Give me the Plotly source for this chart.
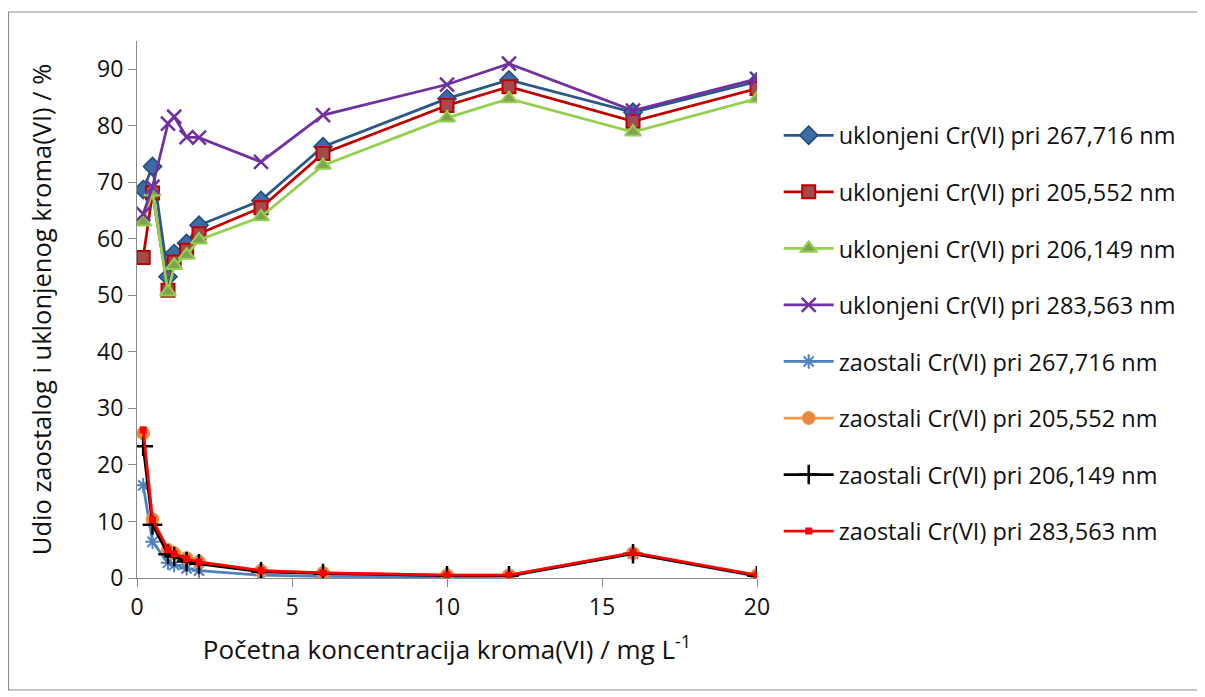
import plotly.graph_objects as go

# pocetna koncentracija kroma(VI), mg/L
conc = [0.2, 0.5, 1, 1.2, 1.6, 2, 4, 6, 10, 12, 16, 20]

# uklonjeni Cr(VI), %
ukl_267 = [68.7, 72.8, 53.3, 57.4, 59.2, 62.4, 66.8, 76.3, 84.8, 88.1, 82.4, 87.8]
ukl_205 = [56.7, 68.1, 50.9, 55.9, 58.0, 60.9, 65.5, 75.1, 83.6, 86.9, 80.8, 86.6]
ukl_206 = [63.0, 68.3, 50.6, 55.3, 57.1, 59.8, 63.9, 73.0, 81.4, 84.8, 78.9, 84.8]
ukl_283 = [64.4, 69.2, 80.4, 81.6, 78.0, 77.9, 73.6, 81.9, 87.3, 91.0, 82.7, 88.3]

# zaostali Cr(VI), %
zao_267 = [16.4, 6.4, 2.7, 2.3, 1.7, 1.3, 0.5, 0.3, 0.2, 0.3, 4.3, 0.3]
zao_205 = [25.6, 10.4, 5.0, 4.4, 3.5, 2.9, 1.3, 0.9, 0.5, 0.5, 4.4, 0.5]
zao_206 = [23.3, 9.4, 4.2, 3.8, 2.9, 2.5, 1.1, 0.8, 0.4, 0.4, 4.3, 0.4]
zao_283 = [26.2, 10.3, 5.0, 4.3, 3.4, 2.8, 1.3, 0.9, 0.5, 0.5, 4.5, 0.5]

FONT = "Open Sans"
TXT = "#111111"

series = [
    ("uklonjeni Cr(VI) pri 267,716 nm", ukl_267, "#2A5889",
     dict(symbol="diamond", size=14, color="#3B6DA4", line=dict(color="#23497A", width=1.5))),
    ("uklonjeni Cr(VI) pri 205,552 nm", ukl_205, "#C00000",
     dict(symbol="square", size=13, color="#A24A4C", line=dict(color="#C00000", width=2))),
    ("uklonjeni Cr(VI) pri 206,149 nm", ukl_206, "#92D050",
     dict(symbol="triangle-up", size=14, color="#7FA352", line=dict(color="#92D050", width=2))),
    ("uklonjeni Cr(VI) pri 283,563 nm", ukl_283, "#7030A0",
     dict(symbol="x-thin-open", size=14, color="#7030A0", line=dict(color="#7030A0", width=2.5))),
    ("zaostali Cr(VI) pri 267,716 nm", zao_267, "#4F81BD",
     dict(symbol="asterisk-open", size=12, color="#4F81BD", line=dict(color="#4F81BD", width=2))),
    ("zaostali Cr(VI) pri 205,552 nm", zao_205, "#F79646",
     dict(symbol="circle", size=13, color="#E8893F", line=dict(color="#F79646", width=1))),
    ("zaostali Cr(VI) pri 206,149 nm", zao_206, "#000000",
     dict(symbol="cross-thin-open", size=14, color="#000000", line=dict(color="#000000", width=2.5))),
    ("zaostali Cr(VI) pri 283,563 nm", zao_283, "#FF0000",
     dict(symbol="square", size=7, color="#FF0000", line=dict(color="#FF0000", width=0))),
]

fig = go.Figure()

for i, (name, vals, col, mk) in enumerate(series):
    fig.add_trace(go.Scatter(
        x=conc,
        y=vals,
        name=name,
        mode="lines+markers",
        line=dict(color=col, width=2.75),
        marker=mk,
        legendgroup="g%d" % i,
    ))

# chart frame
fig.add_shape(type="rect", xref="paper", yref="paper",
              x0=-0.2073, x1=1.7194, y0=-0.2086, y1=1.054,
              line=dict(color="#8C8C8C", width=1.2), layer="below")

fig.update_layout(
    width=1205,
    height=697,
    margin=dict(l=129, r=456, t=33, b=127),
    plot_bgcolor="white",
    paper_bgcolor="white",
    font=dict(family=FONT, size=23, color=TXT),
    legend=dict(
        x=1.035, y=0.865, xanchor="left", yanchor="top",
        font=dict(family=FONT, size=23.5, color=TXT),
        tracegroupgap=23,
        itemwidth=50,
        bgcolor="rgba(0,0,0,0)",
    ),
    xaxis=dict(
        range=[0, 20],
        tickvals=[0, 5, 10, 15, 20],
        showline=True, linecolor="#898989", linewidth=1.2,
        ticks="outside", ticklen=8, tickcolor="#898989",
        showgrid=False, zeroline=False,
        tickfont=dict(size=23),
        title=dict(text="Početna koncentracija kroma(VI) / mg L<sup>-1</sup>",
                   font=dict(size=26), standoff=20),
    ),
    yaxis=dict(
        range=[0, 95],
        tickvals=[0, 10, 20, 30, 40, 50, 60, 70, 80, 90],
        showline=True, linecolor="#898989", linewidth=1.2,
        ticks="outside", ticklen=8, tickcolor="#898989",
        showgrid=False, zeroline=False,
        tickfont=dict(size=23),
        title=dict(text="Udio zaostalog i uklonjenog kroma(VI) / %",
                   font=dict(size=25.5), standoff=38),
    ),
)

fig.write_html("out.html")
